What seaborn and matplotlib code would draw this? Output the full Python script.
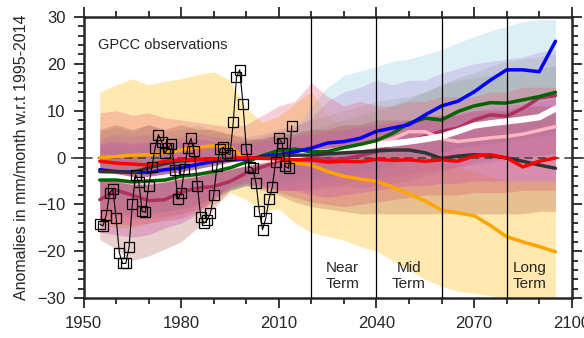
import numpy as np
import pandas as pd
import seaborn as sns
import matplotlib.pyplot as plt
from matplotlib.ticker import MultipleLocator

# 5-yearly values (mm/month anomaly w.r.t. 1995-2014)
years = [1955, 1960, 1965, 1970, 1975, 1980, 1985, 1990, 1995, 2000,
         2005, 2010, 2015, 2020, 2025, 2030, 2035, 2040, 2045, 2050,
         2055, 2060, 2065, 2070, 2075, 2080, 2085, 2090, 2095]

orange = [0.0, 0.2, 0.5, 0.6, 1.0, 1.6, 2.2, 2.5, 2.3, -0.3, -0.6, -0.9, -1.2, -1.6, -3.0, -4.0, -4.6, -5.1, -6.3, -7.8, -9.3, -11.2, -11.8, -12.4, -14.5, -16.9, -18.0, -19.0, -20.1]
red = [-0.8, -1.2, -1.4, -1.6, -0.8, -0.5, -0.4, -0.3, -0.2, 0.0, -0.2, -0.3, -0.5, -0.5, -1.0, -0.8, -0.9, -0.4, -0.6, -0.5, -0.8, -0.5, -0.8, 0.3, 0.6, -0.1, -2.0, -0.8, -0.1]
blue = [-2.6, -3.0, -3.1, -3.2, -2.6, -2.2, -1.5, -0.8, -0.5, -0.4, 0.2, 0.6, 1.2, 2.0, 3.1, 3.4, 4.1, 5.6, 6.3, 7.0, 9.1, 11.0, 12.0, 14.0, 16.5, 18.7, 18.7, 18.3, 24.8]
green = [-4.8, -4.8, -5.2, -5.0, -4.8, -4.0, -3.6, -3.0, -2.2, -1.0, 0.4, 1.5, 1.8, 1.2, 1.3, 2.1, 2.8, 3.6, 5.2, 7.3, 8.4, 8.0, 9.8, 11.0, 11.7, 11.6, 12.3, 13.0, 13.9]
maroon = [-9.0, -7.0, -8.0, -9.2, -9.0, -7.4, -6.5, -6.2, -5.1, -3.3, -2.0, -0.8, 0.2, 0.0, -0.5, -0.3, 0.4, 1.2, 3.0, 3.5, 4.5, 5.6, 6.3, 8.0, 9.1, 8.8, 10.5, 12.7, 13.2]
white = [-4.0, -4.2, -4.8, -4.8, -4.3, -3.8, -3.2, -2.5, -1.8, -1.2, -0.5, 0.0, 0.5, 0.9, 1.2, 1.6, 2.2, 2.7, 3.0, 3.4, 3.9, 4.5, 5.6, 6.8, 7.3, 7.7, 8.1, 8.6, 10.4]
pink = [-4.5, -4.8, -5.5, -5.5, -5.0, -4.3, -3.8, -3.0, -2.3, -1.5, -1.0, -0.3, 0.3, 0.5, 1.0, 1.5, 2.2, 3.0, 4.0, 5.5, 5.5, 4.0, 3.4, 3.8, 4.2, 4.5, 5.0, 5.8, 6.6]
black = [-3.0, -3.0, -3.2, -2.2, -1.3, -0.7, -0.5, -0.3, -0.2, -0.3, 0.0, 0.3, 0.5, 0.5, 0.8, 1.0, 1.2, 1.4, 1.6, 1.6, 1.0, -0.2, 0.3, 0.6, 0.4, -0.1, -0.8, -1.6, -2.3]

# spread envelopes
orange_hi = [14.0, 15.5, 16.8, 15.5, 16.3, 16.8, 17.7, 18.3, 16.5, 10.5, 7.5, 8.8, 11.5, 14.0, 9.0, 6.0, 4.5, 3.0, 2.0, 1.0, 0.0, -1.0, -2.0, -3.0, -4.0, -5.0, -5.0, -5.0, -5.0]
orange_lo = [-14.0, -15.0, -15.0, -14.0, -13.0, -12.0, -11.0, -10.0, -7.5, -9.0, -11.5, -11.0, -14.0, -16.0, -16.8, -17.6, -19.0, -20.0, -22.0, -24.0, -26.0, -27.5, -28.5, -29.0, -29.5, -30.0, -30.0, -30.0, -30.0]
blue_hi = [2.5, 3.0, 2.5, 3.0, 2.5, 3.0, 3.5, 3.5, 3.0, 3.5, 4.0, 4.5, 6.0, 11.0, 15.0, 17.5, 18.5, 19.4, 20.5, 21.0, 22.0, 23.0, 24.5, 25.8, 27.0, 28.0, 29.0, 29.4, 29.4]
blue_lo = [-9.0, -9.5, -10.0, -10.0, -9.5, -9.0, -8.5, -8.0, -7.0, -6.0, -6.0, -6.0, -5.5, -5.0, -4.5, -4.0, -3.5, -3.0, -2.0, -1.0, 0.0, 1.0, 2.0, 2.5, 3.5, 4.0, 4.5, 5.0, 5.5]
white_hi = [4.0, 5.0, 4.5, 5.0, 4.0, 4.5, 5.0, 4.5, 4.0, 3.5, 4.5, 5.5, 6.5, 8.5, 12.0, 14.0, 15.0, 16.5, 15.5, 16.5, 16.5, 18.0, 19.0, 20.0, 20.5, 21.0, 21.5, 22.5, 23.0]
white_lo = [-12.0, -12.5, -13.0, -13.0, -12.5, -12.0, -11.0, -9.0, -7.0, -6.0, -6.5, -7.0, -7.0, -6.5, -6.0, -5.5, -5.0, -4.5, -4.0, -3.5, -3.0, -2.5, -2.0, -1.5, -1.0, -0.5, 0.0, 0.5, 1.0]
green_hi = [2.0, 2.5, 2.0, 2.5, 2.0, 2.5, 3.0, 3.0, 3.0, 3.5, 4.0, 5.0, 5.5, 6.0, 7.0, 8.0, 9.0, 10.0, 11.0, 12.5, 14.0, 15.5, 16.5, 17.0, 17.5, 18.0, 18.5, 19.0, 19.5]
green_lo = [-11.0, -11.5, -12.0, -12.0, -11.5, -11.0, -10.0, -8.5, -7.0, -6.0, -5.5, -5.0, -4.5, -4.5, -4.0, -3.5, -3.0, -2.5, -1.5, -0.5, 0.5, 1.0, 2.0, 2.5, 3.0, 3.5, 4.0, 4.5, 5.0]
black_hi = [5.5, 6.5, 5.5, 7.0, 5.5, 6.0, 7.0, 5.5, 5.0, 4.5, 5.0, 6.0, 7.0, 8.0, 9.0, 10.0, 11.0, 12.0, 12.5, 13.0, 14.0, 15.5, 17.0, 18.0, 19.5, 20.5, 21.0, 21.5, 22.0]
black_lo = [-11.0, -12.0, -12.5, -12.0, -11.5, -11.0, -10.0, -8.5, -6.5, -5.5, -6.0, -6.5, -7.0, -7.0, -6.5, -6.0, -6.5, -6.0, -5.5, -5.0, -4.0, -3.0, -2.0, -1.0, -0.5, 0.0, 0.0, 0.5, 0.5]
maroon_hi = [9.5, 10.0, 9.0, 9.5, 8.5, 8.0, 7.5, 7.0, 6.5, 7.0, 9.0, 11.0, 12.0, 16.0, 13.0, 11.0, 12.0, 11.0, 11.0, 12.0, 12.0, 13.0, 13.0, 13.0, 14.0, 14.0, 15.0, 15.0, 15.0]
maroon_lo = [-13.0, -14.0, -14.5, -14.0, -13.5, -13.0, -11.5, -9.0, -6.5, -5.5, -6.5, -7.5, -8.5, -9.5, -10.0, -10.5, -10.0, -9.5, -9.0, -8.5, -8.0, -8.0, -8.0, -7.5, -7.5, -7.5, -7.0, -7.0, -7.0]
pink_hi = [3.0, 3.5, 3.0, 3.5, 3.0, 3.5, 4.0, 3.5, 3.0, 3.0, 3.5, 4.0, 4.5, 5.0, 5.5, 6.0, 6.5, 7.0, 7.5, 8.0, 8.5, 9.0, 9.5, 10.0, 10.5, 11.0, 11.5, 12.0, 12.5]
pink_lo = [-16.0, -16.5, -17.0, -16.5, -15.0, -14.0, -12.0, -9.0, -6.0, -5.0, -6.0, -7.0, -7.0, -8.0, -8.5, -8.0, -7.5, -7.0, -6.5, -6.0, -6.0, -5.5, -5.5, -5.0, -5.0, -5.0, -5.0, -5.0, -5.0]
red_hi = [6.0, 7.0, 6.0, 7.0, 6.0, 7.0, 6.0, 6.0, 5.0, 4.0, 4.0, 5.0, 5.0, 6.0, 6.0, 7.0, 7.0, 8.0, 8.0, 8.0, 9.0, 9.0, 9.0, 10.0, 10.0, 10.0, 11.0, 11.0, 11.0]
red_lo = [-17.5, -19.5, -22.0, -21.0, -19.5, -18.0, -15.0, -11.0, -7.0, -6.0, -7.0, -8.0, -9.5, -10.5, -11.0, -11.5, -12.0, -12.0, -12.0, -12.0, -12.0, -12.0, -12.0, -12.0, -12.0, -12.0, -12.0, -11.5, -11.5]

# GPCC observed yearly anomalies 1955-2014
obs_years = list(range(1955, 2015))
obs = [-14.2, -14.6, -12.2, -7.6, -6.7, -12.8, -20.3, -22.6, -22.6, -19.1,
       -10.0, -3.7, -5.3, -11.5, -11.7, -6.0, -2.1, 2.1, 4.9, 3.4,
       0.9, 2.0, 2.9, -2.6, -8.9, -7.6, -2.5, 2.1, 4.1, 1.4,
       -6.0, -12.6, -14.0, -13.3, -11.9, -8.0, -1.8, 1.8, 2.2, 0.9,
       0.6, 7.5, 17.1, 18.7, 11.4, 1.9, -2.1, -2.3, -5.5, -11.4,
       -15.4, -13.0, -8.9, -6.3, -1.0, 4.1, 3.2, -1.9, -2.3, 6.8]

sns.set_style("ticks")
plt.rcParams['font.family'] = ['Liberation Sans', 'DejaVu Sans']

fig = plt.figure(figsize=(5.84, 3.38), dpi=100)
ax = fig.add_axes([0.143, 0.118, 0.836, 0.832])

bands = [
    ("#FFD050", 0.45, orange_hi, orange_lo),
    ("#A8D8E8", 0.40, blue_hi, blue_lo),
    ("#B48CD8", 0.30, white_hi, white_lo),
    ("#8FB08F", 0.30, green_hi, green_lo),
    ("#9A9A9A", 0.25, black_hi, black_lo),
    ("#E8607A", 0.30, maroon_hi, maroon_lo),
    ("#DA5ACD", 0.35, pink_hi, pink_lo),
    ("#A0463C", 0.25, red_hi, red_lo),
]
for col, alpha, hi, lo in bands:
    ax.fill_between(years, lo, hi, color=col, alpha=alpha, lw=0)

# zero line, sticking out of the frame a bit
ax.plot([-0.025, 1.025], [0, 0], transform=ax.get_yaxis_transform(),
        color="#444444", ls=(0, (5, 3)), lw=1.2, clip_on=False, zorder=2)

runs = [
    ("orange", orange, "#FFA500", 2.5),
    ("maroon", maroon, "#B03060", 2.5),
    ("pink", pink, "#FFB6C1", 2.5),
    ("white", white, "white", 4.5),
    ("green", green, "#006400", 2.5),
    ("blue", blue, "#0000FF", 2.5),
    ("black", black, "#333333", 2.5),
    ("red", red, "#FF0000", 2.5),
]
for name, vals, col, lw in runs:
    sns.lineplot(x=years, y=vals, color=col, linewidth=lw, ax=ax, zorder=3)

for yr in [2020, 2040, 2060, 2080]:
    ax.axvline(yr, color="black", lw=0.9, zorder=4)

sns.lineplot(x=obs_years, y=obs, color="black", linewidth=0.8, marker="s",
             markersize=6.5, markerfacecolor="none", markeredgecolor="black",
             markeredgewidth=0.9, ax=ax, zorder=5)

ax.text(1954.5, 23.9, "GPCC observations", fontsize=10.5, va="center")
for x, lab in [(2029.6, "Near\nTerm"), (2049.9, "Mid\nTerm"), (2087.0, "Long\nTerm")]:
    ax.text(x, -25.3, lab, fontsize=11, ha="center", va="center",
            multialignment="center", linespacing=1.15)

ax.set_xlim(1950, 2100)
ax.set_ylim(-30, 30)
ax.set_xticks([1950, 1980, 2010, 2040, 2070, 2100])
ax.set_yticks([-30, -20, -10, 0, 10, 20, 30])
ax.xaxis.set_minor_locator(MultipleLocator(10))
ax.yaxis.set_minor_locator(MultipleLocator(2))
ax.tick_params(which="both", direction="out", top=True, right=True,
               labeltop=False, labelright=False, labelsize=12, width=1.3)
ax.tick_params(which="major", length=7, pad=6)
ax.tick_params(which="minor", length=4)
for sp in ax.spines.values():
    sp.set_linewidth(1.8)
ax.set_xlabel("")
ax.set_ylabel("Anomalies in mm/month w.r.t 1995-2014", fontsize=11.5, labelpad=6)

fig.savefig("out.png", dpi=100)
